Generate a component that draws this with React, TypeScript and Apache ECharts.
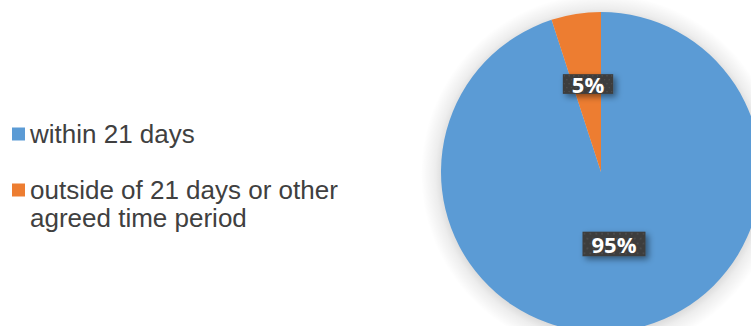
import React, { useEffect, useRef } from 'react';
import * as echarts from 'echarts';

const categories = ['within 21 days', 'outside of 21 days or other agreed time period'];
const legendLabels = ['within 21 days', '\noutside of 21 days or other\nagreed time period'];
const values = [95, 5];
const colors = ['#5B9BD5', '#ED7D31'];

const PIE_CX = 601;
const PIE_CY = 172;
const PIE_R = 160;
const HALO = 20;

function makePattern(w: number, h: number): string {
  const c = document.createElement('canvas');
  c.width = w;
  c.height = h;
  const ctx = c.getContext('2d');
  if (!ctx) return '';
  ctx.fillStyle = '#3c3c3c';
  ctx.fillRect(0, 0, w, h);
  ctx.fillStyle = '#515151';
  let row = 0;
  for (let y = 2; y < h; y += 5, row++) {
    for (let x = row % 2 ? 5 : 2; x < w; x += 6) {
      ctx.beginPath();
      ctx.arc(x, y, 1, 0, Math.PI * 2);
      ctx.fill();
    }
  }
  return c.toDataURL();
}

export default function App() {
  const ref = useRef<HTMLDivElement>(null);
  useEffect(() => {
    if (!ref.current) return;
    const chart = echarts.init(ref.current, null, { renderer: 'svg' });
    const pattern = makePattern(64, 25);
    const legendText = {
      fontFamily: 'Liberation Sans, Arial, sans-serif',
      fontSize: 26,
      lineHeight: 28,
      color: '#404040',
    };
    const legendBase = {
      orient: 'vertical' as const,
      left: 12,
      icon: 'rect',
      itemWidth: 13,
      itemHeight: 13,
      padding: 0,
      selectedMode: false,
      textStyle: legendText,
      formatter: (name: string) => legendLabels[categories.indexOf(name)],
    };
    const edge = (PIE_R - 4) / (PIE_R + HALO);
    chart.setOption({
      animation: false,
      backgroundColor: '#ffffff',
      color: colors,
      graphic: {
        elements: [
          {
            type: 'circle',
            silent: true,
            shape: { cx: PIE_CX, cy: PIE_CY + 2, r: PIE_R + HALO },
            style: {
              fill: {
                type: 'radial',
                x: 0.5,
                y: 0.5,
                r: 0.5,
                colorStops: [
                  { offset: 0, color: 'rgba(0,0,0,0.16)' },
                  { offset: edge, color: 'rgba(0,0,0,0.16)' },
                  { offset: edge + (1 - edge) * 0.4, color: 'rgba(0,0,0,0.07)' },
                  { offset: 1, color: 'rgba(0,0,0,0)' },
                ],
              },
            },
          },
        ],
      },
      legend: [
        { ...legendBase, top: 120, data: [{ name: categories[0] }] },
        { ...legendBase, top: 148, data: [{ name: categories[1] }] },
      ],
      series: [
        {
          type: 'pie',
          center: [PIE_CX, PIE_CY],
          radius: PIE_R,
          startAngle: 90,
          clockwise: true,
          percentPrecision: 0,
          silent: true,
          data: categories.map((name, i) => ({
            name,
            value: values[i],
            itemStyle: { color: colors[i] },
          })),
          label: {
            show: true,
            position: 'inside',
            formatter: '{d}%',
            color: '#ffffff',
            fontFamily: 'Open Sans, sans-serif',
            fontWeight: 'bold',
            fontSize: 22,
            padding: [2, 9, 2, 9],
            backgroundColor: { image: pattern },
            shadowColor: 'rgba(0,0,0,0.45)',
            shadowBlur: 6,
            shadowOffsetX: 3,
            shadowOffsetY: 3,
          },
          labelLayout: (p: any) => ({ dy: p.dataIndex === 0 ? -10 : -6 }),
          labelLine: { show: false },
        },
      ],
    });
    return () => chart.dispose();
  }, []);
  return (
    <div
      ref={ref}
      style={{ position: 'fixed', left: 0, top: 0, width: 751, height: 326 }}
    />
  );
}
